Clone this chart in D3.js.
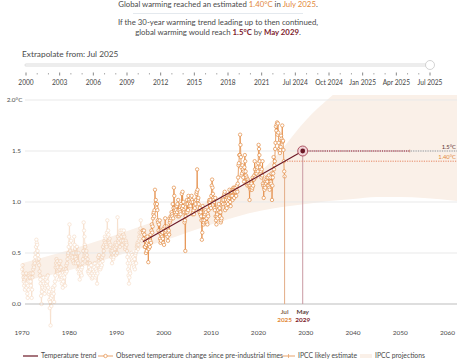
<!DOCTYPE html>
<html><head><meta charset="utf-8">
<script src="https://cdn.jsdelivr.net/npm/d3@7"></script>
<style>
html,body{margin:0;padding:0;background:#fff;}
svg{display:block;font-family:Lato, "Open Sans", sans-serif;}
</style></head><body>
<svg id="chart" width="474" height="360"></svg>
<script>
// ---------- DATA ----------
// Observed monthly temperature change since pre-industrial times (°C), Jan 1970 – Jul 2025
const obs1970s = [
 0.34,0.38,0.30,0.26,0.22,0.18,0.24,0.14,0.20,0.26,0.30,0.16,
 0.20,0.10,0.06,0.18,0.14,0.22,0.28,0.30,0.26,0.22,0.18,0.30,
 0.06,0.14,0.26,0.30,0.34,0.38,0.36,0.42,0.40,0.46,0.50,0.56,
 0.63,0.60,0.58,0.52,0.48,0.40,0.44,0.38,0.32,0.28,0.24,0.20,
 0.08,0.00,0.12,0.18,0.16,0.22,0.26,0.20,0.14,0.10,0.16,0.18,
 0.24,0.20,0.26,0.18,0.22,0.28,0.16,0.10,0.12,0.04,-0.04,0.02,
 -0.21,0.06,-0.02,0.10,0.08,0.12,0.16,0.14,0.10,0.02,0.18,0.22,
 0.28,0.36,0.40,0.44,0.38,0.42,0.36,0.32,0.30,0.24,0.40,0.34,
 0.30,0.42,0.36,0.28,0.24,0.20,0.26,0.16,0.22,0.28,0.34,0.26,
 0.32,0.18,0.30,0.34,0.38,0.32,0.40,0.44,0.48,0.50,0.56,0.66];
const obs1980s = [
 0.78,0.60,0.52,0.58,0.62,0.48,0.50,0.44,0.46,0.42,0.50,0.40,
 0.66,0.58,0.54,0.46,0.40,0.44,0.50,0.56,0.42,0.34,0.40,0.50,
 0.30,0.34,0.24,0.32,0.36,0.30,0.34,0.28,0.36,0.40,0.44,0.52,
 0.80,0.72,0.66,0.58,0.56,0.50,0.46,0.52,0.48,0.40,0.44,0.32,
 0.40,0.30,0.36,0.32,0.40,0.28,0.34,0.38,0.30,0.25,0.30,0.26,
 0.34,0.28,0.32,0.36,0.40,0.30,0.26,0.34,0.28,0.32,0.20,0.30,
 0.38,0.46,0.42,0.48,0.40,0.36,0.34,0.40,0.36,0.44,0.38,0.46,
 0.42,0.56,0.48,0.52,0.58,0.62,0.66,0.60,0.64,0.58,0.56,0.70,
 0.82,0.66,0.72,0.68,0.62,0.60,0.64,0.56,0.58,0.52,0.46,0.50,
 0.40,0.52,0.48,0.44,0.46,0.50,0.56,0.54,0.58,0.60,0.48,0.56];
const obs1990s = [
 0.58,0.50,0.85,0.66,0.62,0.60,0.64,0.68,0.56,0.72,0.70,0.62,
 0.66,0.72,0.58,0.70,0.62,0.68,0.72,0.66,0.60,0.54,0.56,0.62,
 0.60,0.58,0.52,0.46,0.40,0.34,0.28,0.20,0.26,0.32,0.30,0.40,
 0.46,0.50,0.44,0.48,0.42,0.40,0.46,0.38,0.36,0.44,0.34,0.48,
 0.50,0.40,0.52,0.56,0.58,0.60,0.54,0.58,0.62,0.66,0.70,0.64,
 0.74,0.82,0.70,0.66,0.62,0.68,0.72,0.70,0.64,0.72,0.68,0.56,
 0.56,0.62,0.50,0.58,0.52,0.60,0.66,0.62,0.41,0.54,0.58,0.64,
 0.56,0.62,0.68,0.60,0.72,0.78,0.70,0.76,0.84,0.88,0.90,0.86,
 0.92,1.12,0.98,1.02,0.96,0.94,0.98,0.92,0.82,0.80,0.72,0.78,
 0.70,0.82,0.64,0.60,0.62,0.68,0.72,0.66,0.70,0.64,0.60,0.74];
const obs2000s = [
 0.58,0.72,0.76,0.84,0.70,0.72,0.68,0.76,0.74,0.66,0.62,0.70,
 0.72,0.68,0.84,0.80,0.82,0.86,0.84,0.90,0.88,0.86,0.98,0.84,
 0.94,1.14,1.06,0.92,0.90,0.94,0.92,0.88,0.96,0.90,0.98,0.86,
 1.02,0.92,0.86,0.88,0.92,0.90,0.88,0.98,0.96,1.08,0.94,1.10,
 0.96,1.00,0.92,0.90,0.80,0.82,0.52,0.86,0.90,0.98,1.02,0.90,
 0.98,0.92,1.06,1.02,0.96,1.00,0.98,0.96,1.04,1.00,1.06,1.02,
 0.88,1.00,0.90,0.92,0.88,0.96,0.94,1.00,0.98,1.02,1.08,1.10,
 1.32,1.12,1.02,1.04,0.98,0.92,0.90,0.94,0.88,0.90,0.86,0.82,
 0.63,0.70,0.96,0.82,0.78,0.80,0.86,0.82,0.88,0.92,0.90,0.80,
 0.84,0.80,0.78,0.88,0.86,0.92,1.00,1.02,1.00,0.96,1.02,0.94];
const obs2010s = [
 1.06,1.16,1.22,1.14,1.08,1.04,1.02,1.00,0.94,0.92,1.04,0.86,
 0.82,0.78,0.86,0.88,0.84,0.92,0.96,0.98,0.90,0.94,0.86,0.90,
 0.80,0.82,0.84,1.00,1.02,1.04,0.98,1.02,1.06,1.08,1.10,0.92,
 0.98,1.02,0.96,0.94,1.00,1.04,0.98,1.02,1.06,1.04,1.12,1.06,
 1.00,0.96,1.06,1.10,1.12,1.06,1.02,1.12,1.14,1.12,1.04,1.14,
 1.12,1.10,1.14,1.06,1.12,1.16,1.10,1.18,1.24,1.36,1.38,1.46,
 1.46,1.66,1.56,1.44,1.34,1.26,1.28,1.36,1.32,1.24,1.30,1.20,
 1.34,1.46,1.40,1.30,1.26,1.18,1.24,1.22,1.16,1.22,1.20,1.18,
 1.16,1.02,1.14,1.16,1.12,1.14,1.18,1.12,1.14,1.24,1.16,1.22,
 1.22,1.26,1.40,1.32,1.24,1.28,1.30,1.28,1.32,1.34,1.30,1.38];
const obs2020s = [
 1.56,1.52,1.46,1.40,1.34,1.28,1.30,1.24,1.32,1.26,1.40,1.18,
 1.16,1.04,1.14,1.12,1.16,1.14,1.20,1.18,1.22,1.24,1.20,1.16,
 1.24,1.16,1.26,1.14,1.12,1.18,1.24,1.20,1.18,1.28,1.02,1.16,
 1.24,1.28,1.44,1.32,1.36,1.40,1.52,1.58,1.74,1.70,1.76,1.78,
 1.66,1.77,1.68,1.58,1.52,1.50,1.48,1.51,1.54,1.65,1.62,1.60,
 1.75,1.59,1.60,1.51,1.40,1.30,1.25];
const firstYear = 1970;
const windowStart = 1995.58; // 30 years before Jul 2025

// 30-year warming trend, extended until it reaches 1.5°C
const trendYears  = [1995.58, 2029.37];
const trendValues = [0.61, 1.50];
const estimateYear = 2025.54, estimateValue = 1.40;
const reachYear = 2029.37, reachValue = 1.5;
const ipccLikelyRange = [2030, 2052];

// IPCC range (likely human-induced warming + projections)
const bandYears = [1970, 1980, 1990, 2000, 2010, 2015, 2018, 2021, 2025, 2030, 2035, 2040, 2045, 2050, 2055, 2062];
const bandLower = [0.22, 0.33, 0.47, 0.62, 0.78, 0.85, 0.89, 0.92, 0.95, 0.98, 1.01, 1.03, 1.05, 1.05, 1.04, 1.01];
const bandUpper = [0.40, 0.53, 0.68, 0.84, 1.02, 1.12, 1.20, 1.32, 1.52, 1.80, 2.02, 2.20, 2.35, 2.45, 2.55, 2.65];

const yTicks = [0, 0.5, 1.0, 1.5, 2.0];
const xTicks = [1970, 1980, 1990, 2000, 2010, 2020, 2030, 2040, 2050, 2060];

const sliderOptions = ["2000","2001","2002","2003","2004","2005","2006","2007","2008","2009","2010","2011",
 "2012","2013","2014","2015","2016","2017","2018","2019","2020","2021","2022","2023",
 "Jul 2024","Aug 2024","Sep 2024","Oct 2024","Nov 2024","Dec 2024","Jan 2025","Feb 2025",
 "Mar 2025","Apr 2025","May 2025","Jun 2025","Jul 2025"];
const sliderValue = "Jul 2025";

// ---------- COLOURS ----------
const C = {
  text: "#4a4a4a", orange: "#e2883a", darkred: "#7d1a2b", obs: "#e38c45",
  trend: "#6b1826", grid: "#e9e9e9", band: "#faf0e8"
};

const svg = d3.select("#chart");

// ---------- HEADER ----------
const head = svg.append("g").attr("font-size", 7.8).attr("fill", C.text).attr("text-anchor", "middle");
const t1 = head.append("text").attr("x", 218).attr("y", 7);
t1.append("tspan").text("Global warming reached an estimated ");
t1.append("tspan").attr("fill", C.orange).text("1.40°C");
t1.append("tspan").text(" in ");
t1.append("tspan").attr("fill", C.orange).text("July 2025");
t1.append("tspan").text(".");
svg.append("line").attr("x1", 133).attr("x2", 303).attr("y1", 13.5).attr("y2", 13.5).attr("stroke", "#dde3ea").attr("stroke-width", 0.8);
head.append("text").attr("x", 218).attr("y", 25).text("If the 30-year warming trend leading up to then continued,");
const t3 = head.append("text").attr("x", 218).attr("y", 34.5);
t3.append("tspan").text("global warming would reach ");
t3.append("tspan").attr("fill", C.darkred).attr("font-weight", 700).text("1.5°C");
t3.append("tspan").text(" by ");
t3.append("tspan").attr("fill", C.darkred).attr("font-weight", 700).text("May 2029");
t3.append("tspan").text(".");

// ---------- SLIDER ----------
svg.append("text").attr("x", 22).attr("y", 57).attr("font-size", 8.3).attr("fill", C.text)
  .text("Extrapolate from: " + sliderValue);
const sx = d3.scalePoint().domain(sliderOptions).range([26, 430]);
svg.append("line").attr("x1", 26).attr("x2", 430).attr("y1", 65).attr("y2", 65)
  .attr("stroke", "#dcdcdc").attr("stroke-width", 3).attr("stroke-linecap", "round");
svg.append("line").attr("x1", 26).attr("x2", 430).attr("y1", 65).attr("y2", 65)
  .attr("stroke", "#f2f2f2").attr("stroke-width", 1.5).attr("stroke-linecap", "round");
const st = svg.append("g");
st.selectAll("line").data(sliderOptions).join("line")
  .attr("x1", d => sx(d)).attr("x2", d => sx(d))
  .attr("y1", (d, i) => i % 3 === 0 ? 72.5 : 73)
  .attr("y2", (d, i) => i % 3 === 0 ? 75.5 : 74.5)
  .attr("stroke", (d, i) => i % 3 === 0 ? "#555" : "#888").attr("stroke-width", 0.7);
st.selectAll("text").data(sliderOptions.filter((d, i) => i % 3 === 0)).join("text")
  .attr("x", d => sx(d)).attr("y", 84.5).attr("text-anchor", "middle")
  .attr("font-size", 6.6).attr("fill", "#444").text(d => d);
svg.append("circle").attr("cx", sx(sliderValue)).attr("cy", 65).attr("r", 4.5)
  .attr("fill", "#fff").attr("stroke", "#c8c8c8").attr("stroke-width", 0.8);

// ---------- CHART ----------
const x = d3.scaleLinear().domain([1970, 2062]).range([22, 457]);
const y = d3.scaleLinear().domain([0, 2]).range([304, 100]);

svg.append("defs").append("clipPath").attr("id", "plotclip")
  .append("rect").attr("x", 22).attr("y", 95).attr("width", 435).attr("height", 240);

const band = bandYears.map((yr, i) => ({yr, lo: bandLower[i], hi: bandUpper[i]}));
svg.append("path").datum(band).attr("clip-path", "url(#plotclip)")
  .attr("fill", C.band)
  .attr("d", d3.area().x(d => x(d.yr)).y0(d => y(d.lo)).y1(d => y(d.hi)).curve(d3.curveMonotoneX));

// grid
svg.append("g").selectAll("line").data(yTicks).join("line")
  .attr("x1", 25).attr("x2", 457).attr("y1", d => y(d)).attr("y2", d => y(d))
  .attr("stroke", d => d === 0 ? "#bdbdbd" : C.grid).attr("stroke-width", 1);
svg.append("g").selectAll("text").data(yTicks).join("text")
  .attr("x", d => d === 2 ? 22.5 : 21).attr("y", d => y(d) + 2.3).attr("text-anchor", "end")
  .attr("font-size", 6.4).attr("fill", C.text).text(d => d3.format(".1f")(d) + (d === 2 ? "°C" : ""));

// x axis labels
svg.append("g").selectAll("text").data(xTicks).join("text")
  .attr("x", d => x(d)).attr("y", 334.5).attr("text-anchor", "middle")
  .attr("font-size", 6.5).attr("fill", C.text).text(d => d);

// observed
const allObs = [].concat(obs1970s, obs1980s, obs1990s, obs2000s, obs2010s, obs2020s);
const obs = allObs.map((v, i) => ({t: firstYear + Math.floor(i / 12) + ((i % 12) + 0.5) / 12, v}));
const early = obs.filter(d => d.t < windowStart + 0.05);
const recent = obs.filter(d => d.t >= windowStart - 0.09);
const line = d3.line().x(d => x(d.t)).y(d => y(d.v));
function drawObs(data, op) {
  const g = svg.append("g").attr("opacity", op);
  g.append("path").datum(data).attr("d", line).attr("fill", "none").attr("stroke", C.obs).attr("stroke-width", 0.8);
  g.selectAll("circle").data(data).join("circle")
    .attr("cx", d => x(d.t)).attr("cy", d => y(d.v)).attr("r", 1.7)
    .attr("fill", "#fff").attr("stroke", C.obs).attr("stroke-width", 0.7);
}
drawObs(early, 0.28);
drawObs(recent, 1);

// vertical markers
const lastObs = obs[obs.length - 1];
svg.append("line").attr("x1", x(estimateYear)).attr("x2", x(estimateYear))
  .attr("y1", y(lastObs.v)).attr("y2", y(0)).attr("stroke", "#e3ad86").attr("stroke-width", 1);
svg.append("line").attr("x1", x(reachYear)).attr("x2", x(reachYear))
  .attr("y1", y(reachValue)).attr("y2", y(0)).attr("stroke", "#c99aa3").attr("stroke-width", 1);

// dotted lines
svg.append("line").attr("x1", x(estimateYear)).attr("x2", 457).attr("y1", y(estimateValue)).attr("y2", y(estimateValue))
  .attr("stroke", "#e47a55").attr("stroke-width", 0.9).attr("stroke-dasharray", "1.2,1.2");
svg.append("line").attr("x1", x(reachYear)).attr("x2", 457).attr("y1", y(reachValue)).attr("y2", y(reachValue))
  .attr("stroke", "#8a8a8a").attr("stroke-width", 0.9).attr("stroke-dasharray", "1.2,1.2");
svg.append("line").attr("x1", x(reachYear)).attr("x2", x(ipccLikelyRange[1])).attr("y1", y(reachValue)).attr("y2", y(reachValue))
  .attr("stroke", "#b0283c").attr("stroke-width", 1).attr("stroke-dasharray", "1.2,1");
svg.append("line").attr("x1", x(ipccLikelyRange[1])).attr("x2", x(ipccLikelyRange[1])).attr("y1", y(reachValue) - 1.5).attr("y2", y(reachValue) + 1.5)
  .attr("stroke", "#c8907a").attr("stroke-width", 0.7);
svg.append("text").attr("x", 456).attr("y", y(reachValue) - 2.5).attr("text-anchor", "end")
  .attr("font-size", 5.8).attr("fill", "#5a3030").text("1.5°C");
svg.append("text").attr("x", 456).attr("y", y(estimateValue) - 2.5).attr("text-anchor", "end")
  .attr("font-size", 5.8).attr("fill", C.orange).text("1.40°C");

// trend line
svg.append("path").datum(trendYears.map((t, i) => ({t, v: trendValues[i]})))
  .attr("d", line).attr("fill", "none").attr("stroke", C.trend).attr("stroke-width", 1.1);

// reach dot
svg.append("circle").attr("cx", x(reachYear)).attr("cy", y(reachValue)).attr("r", 5)
  .attr("fill", "#f1d3d7").attr("stroke", "#9c3546").attr("stroke-width", 0.8);
svg.append("circle").attr("cx", x(reachYear)).attr("cy", y(reachValue)).attr("r", 2.4).attr("fill", C.trend);

// date labels under markers
const lab = svg.append("g").attr("font-size", 6.4).attr("text-anchor", "middle").attr("font-weight", 700);
lab.append("text").attr("x", x(estimateYear)).attr("y", 313.5).attr("fill", "#8a6a55").text("Jul");
lab.append("text").attr("x", x(estimateYear)).attr("y", 322).attr("fill", C.orange).text("2025");
lab.append("text").attr("x", x(reachYear)).attr("y", 313.5).attr("fill", "#5a3a3a").text("May");
lab.append("text").attr("x", x(reachYear)).attr("y", 322).attr("fill", C.darkred).text("2029");

// ---------- LEGEND ----------
const lg = svg.append("g").attr("font-size", 6.8).attr("fill", C.text);
const ly = 356;
lg.append("line").attr("x1", 23).attr("x2", 38).attr("y1", ly).attr("y2", ly).attr("stroke", C.trend).attr("stroke-width", 1.2);
lg.append("text").attr("x", 41).attr("y", ly + 2.3).text("Temperature trend");
lg.append("line").attr("x1", 98).attr("x2", 113).attr("y1", ly).attr("y2", ly).attr("stroke", C.obs).attr("stroke-width", 0.8);
lg.append("circle").attr("cx", 105.5).attr("cy", ly).attr("r", 1.7).attr("fill", "#fff").attr("stroke", C.obs).attr("stroke-width", 0.7);
lg.append("text").attr("x", 116).attr("y", ly + 2.3).text("Observed temperature change since pre-industrial times");
lg.append("line").attr("x1", 282).attr("x2", 295).attr("y1", ly).attr("y2", ly).attr("stroke", "#e8a36a").attr("stroke-width", 1);
lg.append("line").attr("x1", 288.5).attr("x2", 288.5).attr("y1", ly - 2).attr("y2", ly + 2).attr("stroke", "#e8a36a").attr("stroke-width", 0.8);
lg.append("text").attr("x", 298).attr("y", ly + 2.3).text("IPCC likely estimate");
lg.append("line").attr("x1", 360).attr("x2", 372).attr("y1", ly).attr("y2", ly).attr("stroke", C.band).attr("stroke-width", 4);
lg.append("text").attr("x", 375).attr("y", ly + 2.3).text("IPCC projections");
</script>
</body></html>
